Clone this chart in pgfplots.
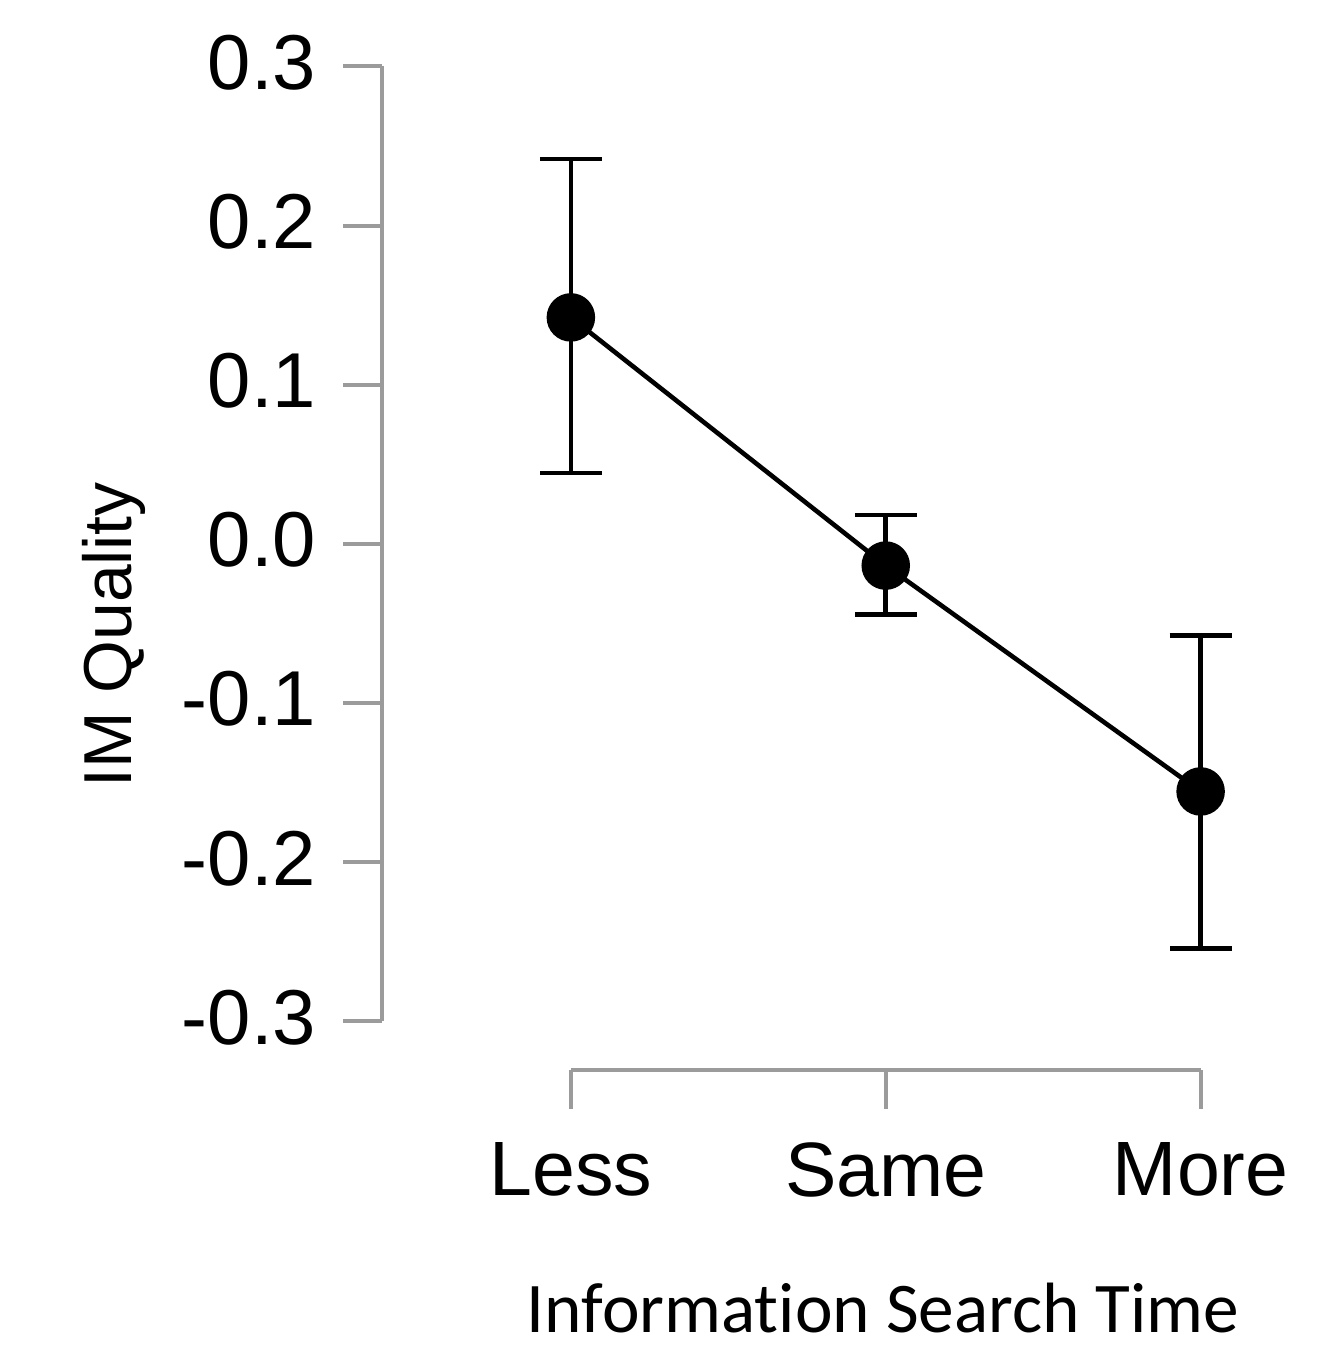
\documentclass[border=0pt]{standalone}
\usepackage{fontspec}
\setmainfont{Liberation Sans}
\newfontfamily\calibri[Ligatures={NoCommon}]{Carlito}
\usepackage{pgfplots}
\pgfplotsset{compat=1.18}
\definecolor{axisgray}{RGB}{155,155,155}
\begin{document}
\begin{tikzpicture}
\begin{axis}[
  scale only axis,
  width=228.74pt, height=251.37pt,
  xmin=-0.6, xmax=2.3, ymin=-0.3304, ymax=0.3,
  clip=false,
  axis lines*=left,
  axis line style={draw=none},
  xtick={0,1,2}, xticklabels={Less,Same,More},
  ytick={-0.3,-0.2,-0.1,0,0.1,0.2,0.3},
  yticklabels={-0.3,-0.2,-0.1,0.0,0.1,0.2,0.3},
  tick align=outside,
  major tick length=9.75pt,
  tick style={axisgray, line width=1pt},
  yticklabel style={font=\fontsize{19.5}{19.5}\selectfont, xshift=-3.25pt, yshift=1pt},
  xticklabel style={font=\fontsize{19.3}{19.3}\selectfont, yshift=-5pt},
  xlabel={\calibri Information Search Time},
  xlabel style={font=\fontsize{17.85}{17.85}\selectfont, at={(rel axis cs:0.5489,-0.2614)}, anchor=base},
  ylabel={IM Quality},
  ylabel style={font=\fontsize{17}{17}\selectfont, at={(rel axis cs:-0.2657,0.4364)}, anchor=south, xshift=-0.75pt, yshift=-5pt},
]
% frame of the whole picture
\path (axis cs:-1.813,0.3417) rectangle (axis cs:2.387,-0.5022);
\draw[axisgray, line width=1pt] (axis cs:-0.6,-0.3) -- (axis cs:-0.6,0.3);
\draw[axisgray, line width=1pt] (axis cs:0,-0.3304) -- (axis cs:2,-0.3304);
\addplot[black, line width=1.15pt, mark=*, mark size=5.5pt,
  error bars/.cd, y dir=both, y explicit,
  error bar style={line width=1.15pt, black},
  error mark=-,
  error mark options={rotate=90, mark size=7.75pt, line width=1.15pt, black}]
coordinates {
  (0,0.1423) += (0,0.0995) -= (0,0.0978)
  (1,-0.0136) += (0,0.0318) -= (0,0.0309)
  (2,-0.1555) += (0,0.0978) -= (0,0.0985)
};
\end{axis}
\end{tikzpicture}
\end{document}
